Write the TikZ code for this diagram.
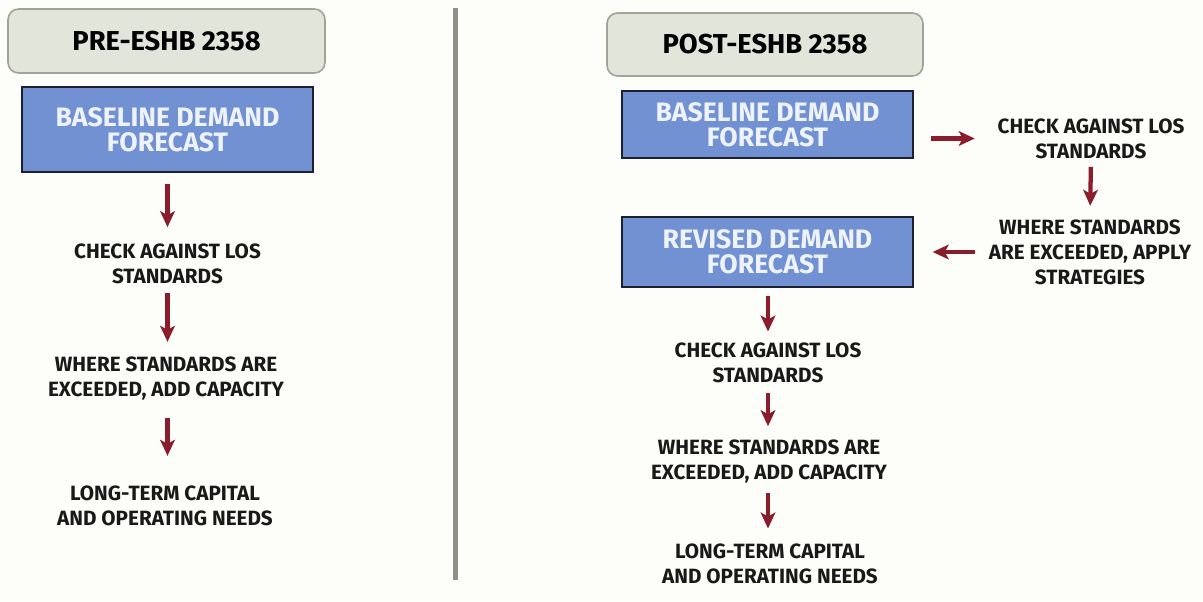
\documentclass[tikz,border=0pt]{standalone}
\usepackage{fontspec}
\setmainfont{Fira Sans}
\usetikzlibrary{arrows.meta}
\definecolor{bgc}{HTML}{FDFDF9}
\definecolor{hdrfill}{HTML}{E2E5DA}
\definecolor{hdrdraw}{HTML}{9FA398}
\definecolor{bluefill}{HTML}{7291D3}
\definecolor{bluedraw}{HTML}{1C2030}
\definecolor{bluetext}{HTML}{EEF2FA}
\definecolor{arrc}{HTML}{8A1C2C}
\definecolor{divc}{HTML}{8E9085}
\tikzset{
  hdr/.style={draw=hdrdraw, fill=hdrfill, line width=1.2pt, rounded corners=8pt, font=\fontsize{20.5}{22}\selectfont\bfseries, text=black},
  bluebox/.style={draw=bluedraw, fill=bluefill, line width=1.5pt, font=\fontsize{20}{18.5}\selectfont\bfseries, text=bluetext, align=center, inner sep=0pt},
  txt/.style={font=\fontsize{15.5}{18.8}\selectfont\bfseries, align=center, inner sep=0pt, text=black!90},
  arr/.style={draw=arrc, line width=3.2pt, -{Stealth[length=12pt, width=11pt, inset=3pt]}},
}
\begin{document}
\begin{tikzpicture}[x=0.75pt,y=-0.75pt]
\fill[bgc] (0,0) rectangle (1203,601);
\useasboundingbox (0,0) rectangle (1203,601);
% divider
\draw[divc, line width=3.75pt] (455.5,8) -- (455.5,580);
% ---------- left ----------
\node[hdr, minimum width=317*0.75pt, minimum height=64*0.75pt] (lh) at (166.5,41) {PRE-ESHB 2358};
\node[bluebox, minimum width=291*0.75pt, minimum height=85*0.75pt] (lb) at (167.5,129.5) {BASELINE DEMAND\\FORECAST};
\node[txt] (l1) at (167.5,263.5) {CHECK AGAINST LOS\\STANDARDS};
\node[txt] (l2) at (166,378.5) {WHERE STANDARDS ARE\\EXCEEDED, ADD CAPACITY};
\node[txt] (l3) at (165,505.5) {LONG-TERM CAPITAL\\AND OPERATING NEEDS};
\draw[arr, shorten <=8.25pt, shorten >=12pt] (lb.south -| l1) -- (l1.north);
\draw[arr, shorten <=7pt, shorten >=11pt] (l1.south) -- (l2.north -| l1);
\draw[arr, shorten <=13.5pt, shorten >=22pt] (l2.south -| l1) -- (l3.north -| l1);
% ---------- right ----------
\node[hdr, minimum width=316*0.75pt, minimum height=63*0.75pt] (rh) at (765,44.5) {POST-ESHB 2358};
\node[bluebox, minimum width=291*0.75pt, minimum height=67*0.75pt] (rb) at (767.5,124.5) {BASELINE DEMAND\\FORECAST};
\node[bluebox, minimum width=291*0.75pt, minimum height=70*0.75pt] (rr) at (767.5,252) {REVISED DEMAND\\FORECAST};
\node[txt] (r1) at (1091,138.5) {CHECK AGAINST LOS\\STANDARDS};
\node[txt] (r2) at (1090,252) {WHERE STANDARDS\\ARE EXCEEDED, APPLY\\STRATEGIES};
\node[txt] (r3) at (768,362.5) {CHECK AGAINST LOS\\STANDARDS};
\node[txt] (r4) at (769,461.5) {WHERE STANDARDS ARE\\EXCEEDED, ADD CAPACITY};
\node[txt] (r5) at (770,563.5) {LONG-TERM CAPITAL\\AND OPERATING NEEDS};
\draw[arr, shorten <=12.75pt, shorten >=17pt] (rb.east |- r1.west) -- (r1.west);
\draw[arr, shorten <=6pt, shorten >=10pt] (r1.south) -- (r2.north);
\draw[arr, shorten <=10pt, shorten >=14pt] (r2.west) -- (rr.east |- r2.west);
\draw[arr, shorten <=6pt, shorten >=8pt] (rr.south -| r3) -- (r3.north);
\draw[arr, shorten <=8pt, shorten >=10pt] (r3.south) -- (r4.north -| r3);
\draw[arr, shorten <=7.5pt, shorten >=11pt] (r4.south -| r3) -- (r5.north -| r3);
\end{tikzpicture}
\end{document}
